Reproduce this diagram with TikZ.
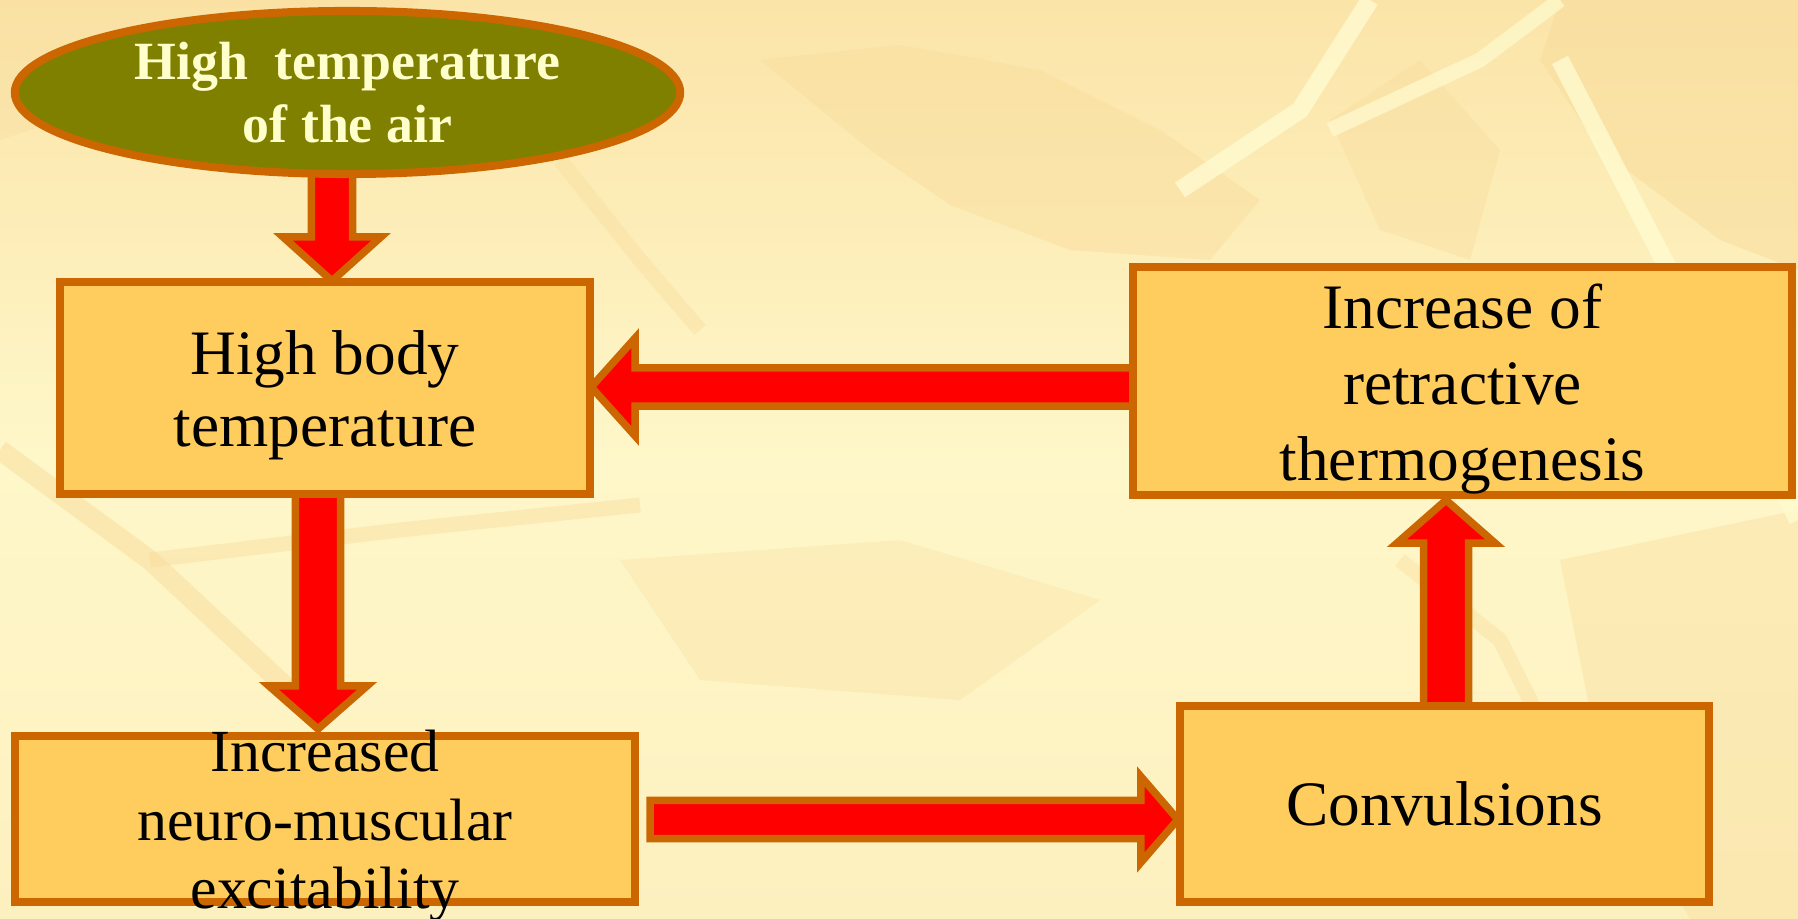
\documentclass[tikz,border=0pt]{standalone}
\usepackage{fontspec}
\setmainfont{Liberation Serif}
\usetikzlibrary{calc,shapes.geometric}
\pgfdeclarelayer{bglayer}
\pgfdeclarelayer{arrowlayer}
\pgfsetlayers{bglayer,arrowlayer,main}
\definecolor{boxfill}{HTML}{FFCC5E}
\definecolor{brd}{HTML}{CC6600}
\definecolor{ovalfill}{HTML}{808000}
\definecolor{ovaltext}{HTML}{FFFFCC}
\definecolor{arrowred}{HTML}{FF0000}
\definecolor{bgtop}{HTML}{FBE4A8}
\definecolor{bgmid}{HTML}{FEF7C9}
\definecolor{bgbot}{HTML}{FDF0BF}
\definecolor{leafdark}{HTML}{F9DC9C}
\definecolor{leaflight}{HTML}{FFFBD0}
\newcommand\blockarr[5]{%
  \coordinate (ba-base) at ($(#2)!#5!(#1)$);
  \path[bigarrow] ($(#1)!#3!90:(#2)$) -- ($(ba-base)!#3!90:(#2)$)
    -- ($(ba-base)!#4!90:(#2)$) -- (#2) -- ($(ba-base)!#4!-90:(#2)$)
    -- ($(ba-base)!#3!-90:(#2)$) -- ($(#1)!#3!-90:(#2)$) -- cycle;}
\begin{document}
\begin{tikzpicture}[x=0.01cm,y=-0.01cm,
  box/.style={rectangle, draw=brd, fill=boxfill, line width=0.08cm, inner sep=0pt},
  oval/.style={ellipse, draw=brd, fill=ovalfill, line width=0.08cm, inner sep=0pt,
    text=ovaltext, align=center, font=\bfseries\fontsize{15.3}{18}\selectfont},
  lbl/.style={inner sep=0pt, align=center, text=black},
  bigarrow/.style={draw=brd, fill=arrowred, line width=0.075cm, line join=miter}]
\useasboundingbox (0,0) rectangle (1798,919);
\begin{pgfonlayer}{bglayer}
  \fill[top color=bgtop, bottom color=bgbot, middle color=bgmid] (0,0) rectangle (1798,919);
  \fill[leafdark, opacity=0.55] (1560,0) -- (1798,0) -- (1798,270) -- (1720,240) -- (1600,150) -- (1540,60) -- cycle;
  \fill[leafdark, opacity=0.45] (760,60) -- (900,45) -- (1040,70) -- (1160,130) -- (1260,200) -- (1210,260) -- (1070,250) -- (950,205) -- (870,150) -- cycle;
  \fill[leafdark, opacity=0.4] (1330,120) -- (1420,60) -- (1500,150) -- (1470,260) -- (1380,230) -- cycle;
  \fill[leafdark, opacity=0.4] (1560,560) -- (1798,510) -- (1798,919) -- (1690,919) -- (1600,760) -- cycle;
  \fill[leafdark, opacity=0.35] (0,0) -- (420,0) -- (360,60) -- (150,90) -- (0,140) -- cycle;
  \fill[leafdark, opacity=0.3] (620,560) -- (900,540) -- (1100,600) -- (960,700) -- (700,680) -- cycle;
  \draw[leaflight, line width=0.18cm, opacity=0.8] (1370,0) -- (1300,110) -- (1180,190);
  \draw[leaflight, line width=0.18cm, opacity=0.8] (1560,60) -- (1700,330) -- (1798,520);
  \draw[leaflight, line width=0.15cm, opacity=0.7] (1330,130) -- (1480,60) -- (1560,0);
  \draw[leafdark, line width=0.2cm, opacity=0.5] (0,450) -- (150,560) -- (300,700);
  \draw[leafdark, line width=0.15cm, opacity=0.45] (150,560) -- (400,530) -- (640,505);
  \draw[leafdark, line width=0.15cm, opacity=0.4] (560,160) -- (640,260) -- (700,330);
  \draw[leafdark, line width=0.15cm, opacity=0.4] (1400,560) -- (1500,640) -- (1560,760);
\end{pgfonlayer}

% nodes
\node[oval, minimum width=6.65cm, minimum height=1.63cm] (e1) at (347.5,92.5)
  {High\ \ temperature\\of the air};
\node[box, minimum width=5.30cm, minimum height=2.12cm] (b1) at (325,388) {};
\node[box, minimum width=6.59cm, minimum height=2.28cm] (b2) at (1462.5,381) {};
\node[box, minimum width=6.20cm, minimum height=1.66cm] (b3) at (325,819) {};
\node[box, minimum width=5.29cm, minimum height=1.96cm, font=\fontsize{18}{21}\selectfont] (b4) at (1444.5,804) {Convulsions};

% connectors
\coordinate (a1s) at ($(e1.south)+(-15.5,-14)$);
\coordinate (a1t) at ($(b1.north)+(7,3)$);
\begin{pgfonlayer}{arrowlayer}
  \blockarr{a1s}{a1t}{0.205cm}{0.49cm}{0.44cm}
\end{pgfonlayer}
\coordinate (a2s) at ($(b2.west)+(4,6)$);
\coordinate (a2t) at ($(b1.east)+(-3,-1)$);
\blockarr{a2s}{a2t}{0.19cm}{0.49cm}{0.44cm}
\coordinate (a3s) at ($(b1.south)+(-7,-4)$);
\coordinate (a3t) at ($(b3.north)+(-7,-3)$);
\blockarr{a3s}{a3t}{0.225cm}{0.49cm}{0.43cm}
\coordinate (a4s) at ($(b3.east)+(11,0.5)$);
\coordinate (a4t) at ($(b4.west)+(2,15.5)$);
\blockarr{a4s}{a4t}{0.19cm}{0.43cm}{0.37cm}
\coordinate (a5s) at ($(b4.north)+(1.5,4)$);
\coordinate (a5t) at ($(b2.south -| a5s)+(0,1)$);
\blockarr{a5s}{a5t}{0.225cm}{0.49cm}{0.43cm}

% texts
\node[lbl, font=\fontsize{18}{20.5}\selectfont] (t1) at ($(b1.center)+(0,7)$) {High body\\temperature};
\node[lbl, font=\fontsize{18}{21.6}\selectfont] (t2) at ($(b2.center)+(0,8)$) {Increase of\\retractive\\thermogenesis};
\node[lbl, font=\fontsize{17}{19.5}\selectfont] (t3) at ($(b3.center)+(0,7)$) {Increased\\neuro-muscular\\excitability};
\end{tikzpicture}
\end{document}
